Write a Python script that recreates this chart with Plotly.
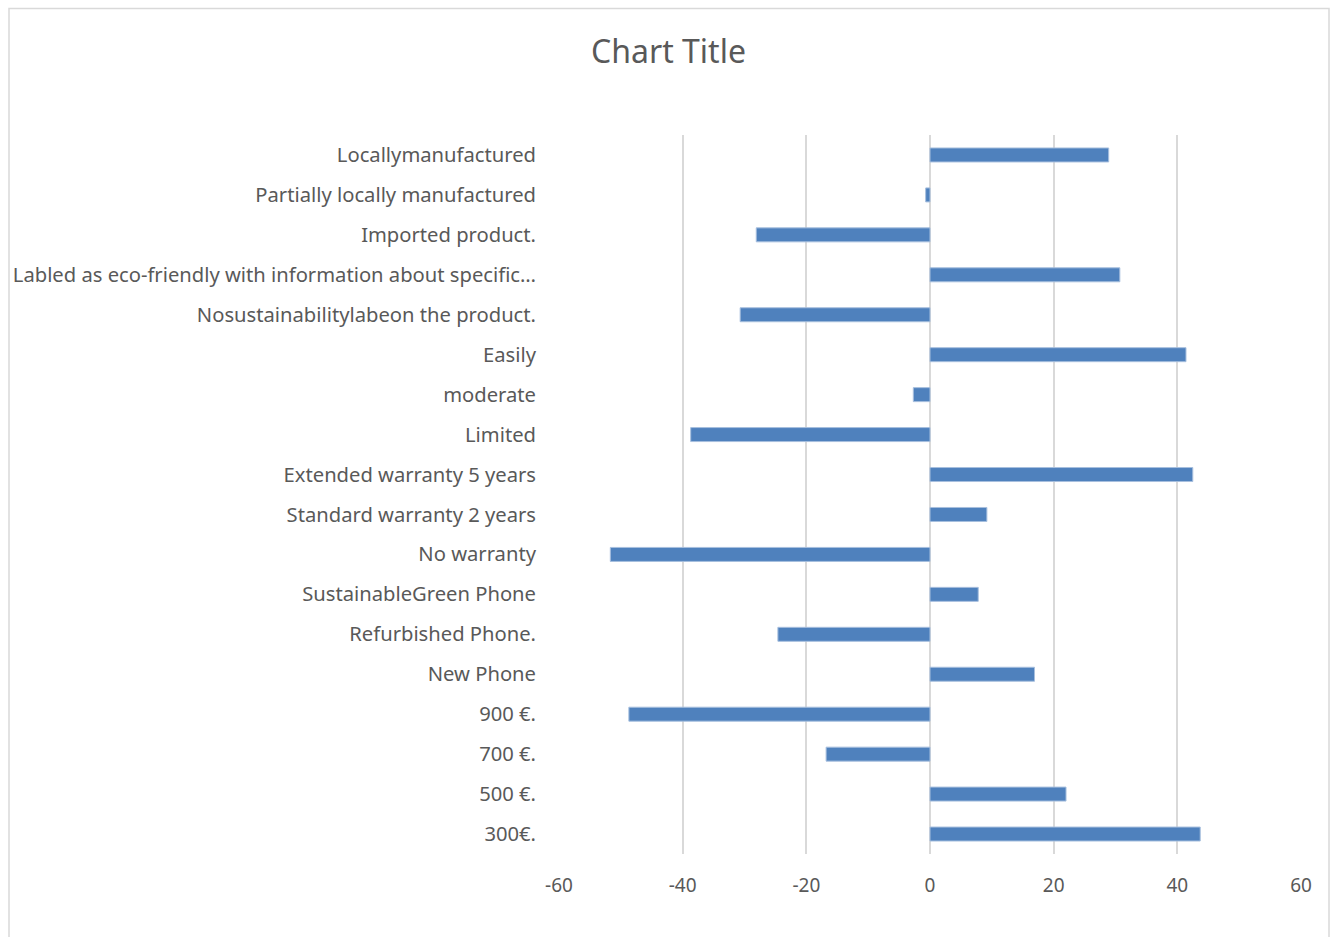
import plotly.graph_objects as go

# Categories listed bottom-to-top as they appear on the axis
categories = [
    "300€.",
    "500 €.",
    "700 €.",
    "900 €.",
    "New Phone",
    "Refurbished Phone.",
    "SustainableGreen Phone",
    "No warranty",
    "Standard warranty 2 years",
    "Extended warranty 5 years",
    "Limited",
    "moderate",
    "Easily",
    "Nosustainabilitylabeon the product.",
    "Labled as eco-friendly with information about specific…",
    "Imported product.",
    "Partially locally manufactured",
    "Locallymanufactured",
]

values = [
    43.7, 22.0, -16.8, -48.7, 16.9, -24.6, 7.8, -51.7, 9.2,
    42.5, -38.7, -2.7, 41.4, -30.7, 30.7, -28.1, -0.7, 28.9,
]

x_ticks = [-60, -40, -20, 0, 20, 40, 60]

FONT = "Noto Sans"
TEXT = "#595959"
GRID = "#D9D9D9"

fig = go.Figure(
    go.Bar(
        x=values,
        y=categories,
        orientation="h",
        width=0.35,
        marker=dict(color="#4F81BD", line=dict(color="#A7BFDE", width=1)),
    )
)

W, H = 1337, 937
L, R, T, B = 559, 36, 135, 83
pw, ph = W - L - R, H - T - B

def px_x(p):
    return (p - L) / pw

def px_y(p):
    return (H - B - p) / ph

fig.update_layout(
    width=W,
    height=H,
    margin=dict(l=L, r=R, t=T, b=B, autoexpand=False),
    paper_bgcolor="white",
    plot_bgcolor="white",
    showlegend=False,
    font=dict(family=FONT, color=TEXT, size=20),
    title=dict(
        text="Chart Title",
        x=0.5,
        xanchor="center",
        y=1 - 52 / H,
        yanchor="middle",
        font=dict(family=FONT, size=32, color=TEXT),
    ),
    xaxis=dict(
        range=[-60, 60],
        tickvals=x_ticks,
        ticktext=[str(v) for v in x_ticks],
        showgrid=True,
        gridcolor=GRID,
        gridwidth=1.5,
        zeroline=True,
        zerolinecolor=GRID,
        zerolinewidth=1.5,
        showline=False,
        ticks="",
        automargin=False,
        ticklabelstandoff=18,
        tickfont=dict(family=FONT, size=19, color=TEXT),
    ),
    yaxis=dict(
        type="category",
        categoryorder="array",
        categoryarray=categories,
        range=[-0.5, len(categories) - 0.5],
        showgrid=False,
        zeroline=False,
        showline=False,
        ticks="",
        automargin=False,
        ticklabelstandoff=22,
        tickfont=dict(family=FONT, size=20.2, color=TEXT),
    ),
    shapes=[
        dict(
            type="rect",
            xref="paper",
            yref="paper",
            x0=px_x(9),
            x1=px_x(1329),
            y0=px_y(945),
            y1=px_y(8.5),
            line=dict(color=GRID, width=1.5),
            fillcolor="rgba(0,0,0,0)",
            layer="below",
        )
    ],
)

fig.write_html("out.html")
